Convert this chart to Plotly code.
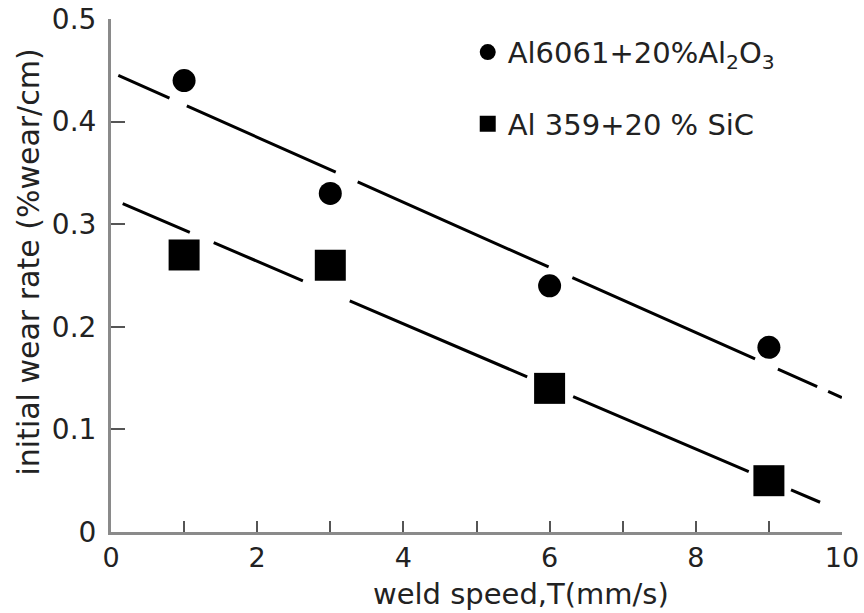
import plotly.graph_objects as go

# ---- data ----
weld_speed = [1, 3, 6, 9]
al6061_wear = [0.44, 0.33, 0.24, 0.18]
al359_wear = [0.27, 0.26, 0.14, 0.05]

# dashed trend lines, end values
al6061_trend_x = [0.1, 10.0]
al6061_trend_y = [0.445, 0.131]
al359_trend_x = [0.16, 9.7]
al359_trend_y = [0.320, 0.029]

series_names = ["Al6061+20%Al<sub>2</sub>O<sub>3</sub>", "Al 359+20 % SiC"]

x_tick_vals = [0, 2, 4, 6, 8, 10]
x_tick_text = ["0", "2", "4", "6", "8", "10"]
x_minor_vals = [1, 3, 5, 7, 9]
y_tick_vals = [0, 0.1, 0.2, 0.3, 0.4, 0.5]
y_tick_text = ["0", "0.1", "0.2", "0.3", "0.4", "0.5"]

x_title = "weld speed,T(mm/s)"
y_title = "initial wear rate (%wear/cm)"

FONT = "DejaVu Sans"
TXT = "#222222"
AXIS = "#8a8a8a"

fig = go.Figure()

# trend lines (drawn beneath markers)
fig.add_trace(go.Scatter(
    x=al6061_trend_x, y=al6061_trend_y, mode="lines", showlegend=False,
    line=dict(color="black", width=3,
              dash="56px,19px,163px,24px,209px,26px,200px,25px,43px,12px,15px,300px"),
    hoverinfo="skip"))
fig.add_trace(go.Scatter(
    x=al359_trend_x, y=al359_trend_y, mode="lines", showlegend=False,
    line=dict(color="black", width=3,
              dash="73px,26px,97px,51px,193px,50px,191px,46px,33px,300px"),
    hoverinfo="skip"))

fig.add_trace(go.Scatter(
    x=weld_speed, y=al6061_wear, mode="markers", name=series_names[0],
    legendgroup="a",
    marker=dict(symbol="circle", size=23, color="black")))
fig.add_trace(go.Scatter(
    x=weld_speed, y=al359_wear, mode="markers", name=series_names[1],
    legendgroup="b",
    marker=dict(symbol="square", size=31, color="black")))

fig.update_layout(
    width=864, height=613,
    margin=dict(l=111, r=22, t=19, b=81, autoexpand=False),
    paper_bgcolor="white", plot_bgcolor="white",
    font=dict(family=FONT, size=28, color=TXT),
    showlegend=True,
    legend=dict(x=0.488, y=0.985, xanchor="left", yanchor="top",
                bgcolor="rgba(0,0,0,0)", font=dict(family=FONT, size=29, color=TXT),
                tracegroupgap=31, itemsizing="trace"),
    xaxis=dict(range=[0, 10], tickmode="array", tickvals=x_tick_vals,
               ticktext=x_tick_text, ticks="inside", ticklen=11, tickwidth=2,
               tickcolor="#555555", showline=True, linecolor=AXIS, linewidth=3,
               showgrid=False, zeroline=False, mirror=False, automargin=False,
               ticklabelstandoff=0,
               minor=dict(tickmode="array", tickvals=x_minor_vals, ticks="inside",
                          ticklen=11, tickwidth=2, tickcolor="#555555", showgrid=False),
               tickfont=dict(family=FONT, size=27, color=TXT)),
    yaxis=dict(range=[0, 0.5], tickmode="array", tickvals=y_tick_vals,
               ticktext=y_tick_text, ticks="inside", ticklen=14, tickwidth=2,
               tickcolor="#555555", showline=True, linecolor=AXIS, linewidth=3,
               showgrid=False, zeroline=False, mirror=False, automargin=False,
               ticklabelstandoff=6,
               tickfont=dict(family=FONT, size=28, color=TXT)),
    annotations=[
        dict(text=x_title, xref="paper", yref="paper", x=0.561, y=-0.12,
             xanchor="center", yanchor="middle", showarrow=False,
             font=dict(family=FONT, size=29, color=TXT)),
        dict(text=y_title, xref="paper", yref="paper", x=-0.113, y=0.526,
             xanchor="center", yanchor="middle", showarrow=False, textangle=-90,
             font=dict(family=FONT, size=30, color=TXT)),
    ],
)

fig.write_html("out.html")
